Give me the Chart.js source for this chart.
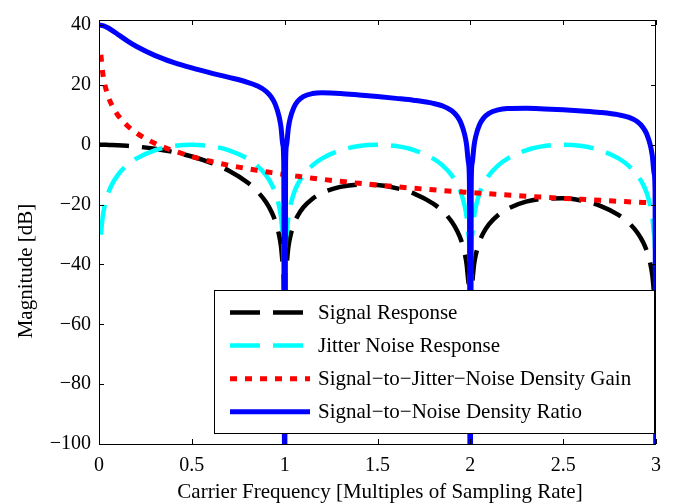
<!DOCTYPE html>
<html>
<head>
<meta charset="utf-8">
<title>Magnitude vs carrier frequency</title>
<script src="https://cdn.jsdelivr.net/npm/chart.js@4.4.1/dist/chart.umd.min.js"></script>
<style>
  html, body { margin: 0; padding: 0; background: #fff; }
  canvas { display: block; }
</style>
</head>
<body>
<canvas id="magChart" width="676" height="504"></canvas>
<script>
// carrier frequency, in multiples of the sampling rate
const freq = [
  0, 0.01, 0.02, 0.03, 0.05, 0.07, 0.1, 0.15, 0.2, 0.3, 0.4, 0.5, 0.6, 0.7, 0.8, 0.85, 0.9, 0.93, 0.95, 0.97, 0.98, 0.99, 0.995,
  1, 1.005, 1.01, 1.02, 1.03, 1.05, 1.07, 1.1, 1.15, 1.2, 1.3, 1.4, 1.5, 1.6, 1.7, 1.8, 1.85, 1.9, 1.93, 1.95, 1.97, 1.98, 1.99, 1.995,
  2, 2.005, 2.01, 2.02, 2.03, 2.05, 2.07, 2.1, 2.15, 2.2, 2.3, 2.4, 2.5, 2.6, 2.7, 2.8, 2.85, 2.9, 2.93, 2.95, 2.97, 2.98, 2.99, 2.995,
  3
];

// magnitudes in dB (dips at whole multiples run off the bottom of the axis)
const signalResponse = [
  0, 0, -0.01, -0.01, -0.04, -0.07, -0.14, -0.32, -0.58, -1.33, -2.42, -3.92, -5.94, -8.69, -12.62, -15.39, -19.23, -22.54, -25.61, -30.21, -33.81, -39.92, -45.98,
  -120, -46.07, -40.09, -34.16, -30.73, -26.48, -23.76, -20.97, -18.02, -16.15, -14.06, -13.31, -13.46, -14.47, -16.39, -19.67, -22.15, -25.72, -28.88, -31.85, -36.36, -39.92, -45.98, -52.02,
  -120, -52.07, -46.07, -40.09, -36.62, -32.29, -29.49, -26.59, -23.45, -21.41, -19.02, -17.99, -17.90, -18.68, -20.41, -23.51, -25.90, -29.39, -32.51, -35.45, -39.93, -43.47, -49.52, -55.55,
  -120
];

const jitterResponse = [
  null, -30.06, -24.04, -20.53, -16.11, -13.23, -10.20, -6.86, -4.62, -1.84, -0.44, 0, -0.44, -1.84, -4.62, -6.86, -10.20, -13.23, -16.11, -20.53, -24.04, -30.06, -36.08,
  -120, -36.08, -30.06, -24.04, -20.53, -16.11, -13.23, -10.20, -6.86, -4.62, -1.84, -0.44, 0, -0.44, -1.84, -4.62, -6.86, -10.20, -13.23, -16.11, -20.53, -24.04, -30.06, -36.08,
  -120, -36.08, -30.06, -24.04, -20.53, -16.11, -13.23, -10.20, -6.86, -4.62, -1.84, -0.44, 0, -0.44, -1.84, -4.62, -6.86, -10.20, -13.23, -16.11, -20.53, -24.04, -30.06, -36.08,
  -120
];

const jitterGain = [
  null, 30.06, 24.04, 20.51, 16.08, 13.16, 10.06, 6.54, 4.04, 0.51, -1.98, -3.92, -5.51, -6.85, -8.00, -8.53, -9.03, -9.31, -9.50, -9.68, -9.77, -9.86, -9.90,
  -9.94, -9.99, -10.03, -10.12, -10.20, -10.37, -10.53, -10.77, -11.16, -11.53, -12.22, -12.87, -13.46, -14.03, -14.55, -15.05, -15.29, -15.52, -15.65, -15.74, -15.83, -15.88, -15.92, -15.94,
  -15.96, -15.99, -16.01, -16.05, -16.09, -16.18, -16.26, -16.39, -16.59, -16.79, -17.18, -17.55, -17.90, -18.24, -18.57, -18.89, -19.04, -19.19, -19.28, -19.34, -19.40, -19.43, -19.46, -19.47,
  -19.49
];

const snrDensity = [
  40, 39.96, 39.82, 39.62, 39.01, 38.24, 36.95, 34.82, 32.93, 29.89, 27.56, 25.67, 24.04, 22.53, 20.89, 19.75, 17.86, 15.77, 13.44, 9.42, 6.02, 0.04, -5.99,
  -120, -6.08, -0.13, 5.67, 8.90, 12.57, 14.55, 16.12, 17.12, 17.36, 17.16, 16.67, 16.13, 15.51, 14.83, 13.84, 12.99, 11.37, 9.43, 7.20, 3.27, -0.09, -6.02, -12.03,
  -120, -12.08, -6.11, -0.26, 3.01, 6.76, 8.82, 10.50, 11.69, 12.10, 12.20, 11.99, 11.69, 11.30, 10.81, 10.00, 9.24, 7.70, 5.80, 3.60, -0.30, -3.64, -9.56, -15.56,
  -120
];

const xTicks = [0, 0.5, 1, 1.5, 2, 2.5, 3];
const xTickLabels = ["0", "0.5", "1", "1.5", "2", "2.5", "3"];
const yTicks = [-100, -80, -60, -40, -20, 0, 20, 40];

const seriesNames = [
  "Signal Response",
  "Jitter Noise Response",
  "Signal\u2212to\u2212Jitter\u2212Noise Density Gain",
  "Signal\u2212to\u2212Noise Density Ratio",
];

const FONT = "'Liberation Serif', 'Times New Roman', serif";

function toPoints(values) {
  return freq.map((f, i) => ({ x: f, y: values[i] }));
}

// box round the axes, ticks pointing inwards, axis titles and the legend
const frame = {
  id: "frame",
  afterDraw(chart) {
    const { ctx, chartArea: a, scales } = chart;
    ctx.save();
    ctx.strokeStyle = "#000";
    ctx.lineWidth = 1;
    ctx.strokeRect(a.left + 0.5, a.top + 0.5, a.right - a.left - 1, a.bottom - a.top);

    ctx.beginPath();
    scales.x.ticks.forEach((t) => {
      const px = Math.round(scales.x.getPixelForValue(t.value)) + 0.5;
      ctx.moveTo(px, a.bottom);
      ctx.lineTo(px, a.bottom - 5);
      ctx.moveTo(px, a.top);
      ctx.lineTo(px, a.top + 5);
    });
    scales.y.ticks.forEach((t) => {
      const py = Math.round(scales.y.getPixelForValue(t.value)) + 0.5;
      ctx.moveTo(a.left, py);
      ctx.lineTo(a.left + 5, py);
      ctx.moveTo(a.right, py);
      ctx.lineTo(a.right - 5, py);
    });
    ctx.stroke();

    ctx.fillStyle = "#000";
    ctx.font = "21px " + FONT;
    ctx.textAlign = "center";
    ctx.textBaseline = "middle";
    ctx.fillText("Carrier Frequency [Multiples of Sampling Rate]", 380, 492);
    ctx.save();
    ctx.translate(26, 271);
    ctx.rotate(-Math.PI / 2);
    ctx.fillText("Magnitude [dB]", 0, 0);
    ctx.restore();

    // legend
    const box = { x: 214, y: 290, w: 440, h: 143 };
    ctx.fillStyle = "#fff";
    ctx.fillRect(box.x, box.y, box.w, box.h);
    ctx.strokeStyle = "#000";
    ctx.lineWidth = 1;
    ctx.strokeRect(box.x + 0.5, box.y + 0.5, box.w, box.h);

    ctx.textAlign = "left";
    chart.data.datasets.forEach((ds, i) => {
      const y = 312.5 + i * 33.1;
      ctx.beginPath();
      ctx.strokeStyle = ds.borderColor;
      ctx.lineWidth = ds.borderWidth;
      ctx.lineCap = "butt";
      ctx.setLineDash(ds.borderDash || []);
      ctx.moveTo(230, y);
      ctx.lineTo(310, y);
      ctx.stroke();
      ctx.setLineDash([]);
      ctx.fillStyle = "#000";
      ctx.fillText(ds.label, 318, y + 1);
    });
    ctx.restore();
  },
};

function renderMagnitudeChart() {
  new Chart(document.getElementById("magChart"), {
    type: "line",
    data: {
      datasets: [
        {
          label: seriesNames[0],
          data: toPoints(signalResponse),
          borderColor: "#000000",
          borderWidth: 4.5,
          borderDash: [30, 13],
          order: 3,
        },
        {
          label: seriesNames[1],
          data: toPoints(jitterResponse),
          borderColor: "#00ffff",
          borderWidth: 4.5,
          borderDash: [30, 13],
          order: 2,
        },
        {
          label: seriesNames[2],
          data: toPoints(jitterGain),
          borderColor: "#ff0000",
          borderWidth: 5,
          borderDash: [7, 8],
          order: 1,
        },
        {
          label: seriesNames[3],
          data: toPoints(snrDensity),
          borderColor: "#0000ff",
          borderWidth: 5,
          order: 0,
        },
      ],
    },
    options: {
      responsive: false,
      animation: false,
      devicePixelRatio: 1,
      layout: { padding: { left: 0, right: 20, top: 14, bottom: 0 } },
      elements: {
        point: { radius: 0, hoverRadius: 0 },
        line: { cubicInterpolationMode: "monotone", borderCapStyle: "butt", fill: false },
      },
      datasets: { line: { clip: 0, spanGaps: false } },
      plugins: {
        legend: { display: false },
        tooltip: { enabled: false },
      },
      scales: {
        x: {
          type: "linear",
          min: 0,
          max: 3,
          afterBuildTicks: (s) => { s.ticks = xTicks.map((v) => ({ value: v })); },
          afterFit: (s) => { s.height = 60; },
          grid: { display: false, drawTicks: false },
          border: { display: false },
          ticks: {
            color: "#000",
            font: { family: FONT, size: 20 },
            padding: 10,
            maxRotation: 0,
            autoSkip: false,
            callback: (v, i) => xTickLabels[i],
          },
        },
        y: {
          type: "linear",
          min: -100,
          max: 41.7,
          afterBuildTicks: (s) => { s.ticks = yTicks.map((v) => ({ value: v })); },
          afterFit: (s) => { s.width = 99; },
          grid: { display: false, drawTicks: false },
          border: { display: false },
          ticks: {
            color: "#000",
            font: { family: FONT, size: 20 },
            padding: 8,
            callback: (v) => String(v).replace("-", "\u2212"),
          },
        },
      },
    },
    plugins: [frame],
  });
}

document.addEventListener("DOMContentLoaded", () => {
  renderMagnitudeChart();
});
</script>
</body>
</html>
